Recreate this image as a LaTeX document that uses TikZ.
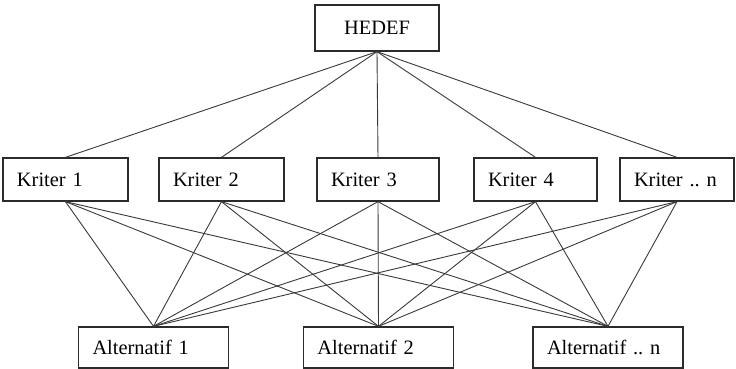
\documentclass[tikz,border=0pt]{standalone}
\usepackage{fontspec}
\setmainfont{Liberation Serif}
\usepackage{tikz}
\usetikzlibrary{positioning}
\frenchspacing
\definecolor{Ink}{HTML}{2B2B2B}
\definecolor{Wire}{HTML}{3A3A3A}
\tikzset{
  box/.style={draw=Ink,fill=white,line width=.65pt,minimum height=21.5pt,inner xsep=7pt,inner ysep=0pt,align=left,font=\fontsize{10.2}{12}\selectfont},
  goal/.style={draw=Ink,fill=white,line width=.65pt,minimum width=62pt,minimum height=23pt,align=center,font=\fontsize{10.2}{12}\selectfont},
  alt/.style={box,text width=61pt,minimum height=20.5pt},
  wire/.style={draw=Wire,line width=.45pt}
}
\begin{document}
\begin{tikzpicture}[x=0.5pt,y=-0.5pt]
  \useasboundingbox[fill=white] (0,0) rectangle (736,369);
  \node[goal] (hedef) at (377,28) {HEDEF};
  % criteria level
  \node[box,text width=48.5pt] (k1) at (65.5,179.5) {Kriter 1};
  \node[box,text width=48.5pt] (k2) at (221.5,179.5) {Kriter 2};
  \node[box,text width=47pt] (k3) at (378,179.5) {Kriter 3};
  \node[box,text width=47.5pt] (k4) at (535.5,179.5) {Kriter 4};
  \node[box,text width=43pt] (k5) at (677,179.5) {Kriter .. n};
  % alternatives
  \node[alt] (a1) at (153.5,347.5) {Alternatif 1};
  \node[alt] (a2) at (378.5,347.5) {Alternatif 2};
  \node[alt] (a3) at (608,347.5) {Alternatif .. n};
  \foreach \k in {k1,k2,k3,k4,k5} {
    \draw[wire] (hedef.south) -- (\k.north);
    \foreach \a in {a1,a2,a3}
      \draw[wire] (\k.south) -- (\a.north);
  }
\end{tikzpicture}
\end{document}
